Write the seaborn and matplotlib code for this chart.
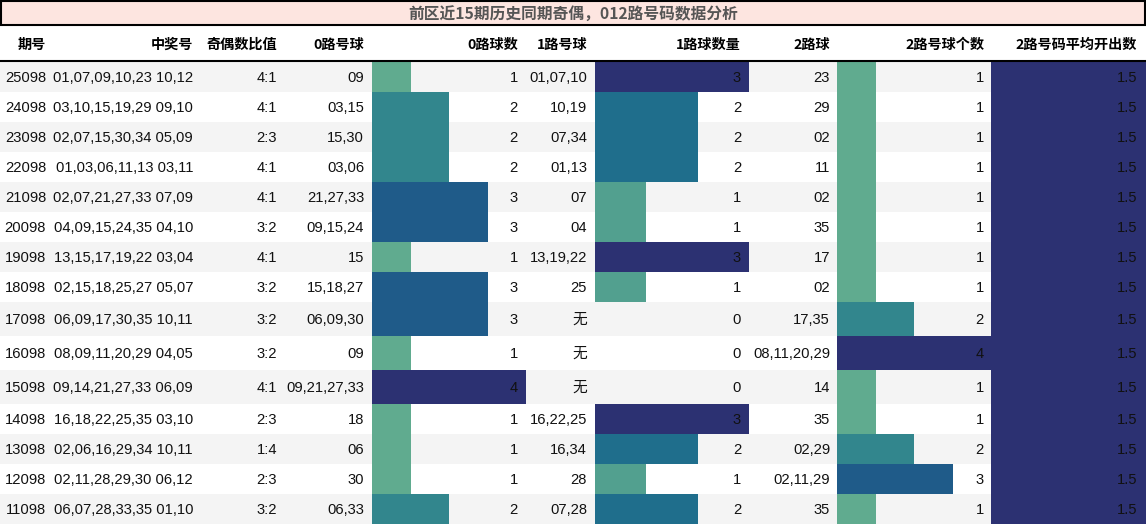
import numpy as np
import pandas as pd
import matplotlib
matplotlib.use('Agg')
import matplotlib.pyplot as plt
from matplotlib.colors import LinearSegmentedColormap
from matplotlib.patches import Rectangle
import seaborn as sns

# 前区近15期历史同期数据
periods = ['25098', '24098', '23098', '22098', '21098', '20098', '19098', '18098',
           '17098', '16098', '15098', '14098', '13098', '12098', '11098']
draws = ['01,07,09,10,23 10,12', '03,10,15,19,29 09,10', '02,07,15,30,34 05,09',
         '01,03,06,11,13 03,11', '02,07,21,27,33 07,09', '04,09,15,24,35 04,10',
         '13,15,17,19,22 03,04', '02,15,18,25,27 05,07', '06,09,17,30,35 10,11',
         '08,09,11,20,29 04,05', '09,14,21,27,33 06,09', '16,18,22,25,35 03,10',
         '02,06,16,29,34 10,11', '02,11,28,29,30 06,12', '06,07,28,33,35 01,10']
odd_even = ['4:1', '4:1', '2:3', '4:1', '4:1', '3:2', '4:1', '3:2', '3:2', '3:2',
            '4:1', '2:3', '1:4', '2:3', '3:2']
road0_balls = ['09', '03,15', '15,30', '03,06', '21,27,33', '09,15,24', '15', '15,18,27',
               '06,09,30', '09', '09,21,27,33', '18', '06', '30', '06,33']
road0_count = [1, 2, 2, 2, 3, 3, 1, 3, 3, 1, 4, 1, 1, 1, 2]
road1_balls = ['01,07,10', '10,19', '07,34', '01,13', '07', '04', '13,19,22', '25',
               '无', '无', '无', '16,22,25', '16,34', '28', '07,28']
road1_count = [3, 2, 2, 2, 1, 1, 3, 1, 0, 0, 0, 3, 2, 1, 2]
road2_balls = ['23', '29', '02', '11', '02', '35', '17', '02', '17,35', '08,11,20,29',
               '14', '35', '02,29', '02,11,29', '35']
road2_count = [1, 1, 1, 1, 1, 1, 1, 1, 2, 4, 1, 1, 2, 3, 1]
road2_avg = [1.5] * 15

headers = ['期号', '中奖号', '奇偶数比值', '0路号球', '0路球数', '1路号球',
           '1路球数量', '2路球', '2路号球个数', '2路号码平均开出数']
title = '前区近15期历史同期奇偶，012路号码数据分析'

df = pd.DataFrame({'期号': periods, '中奖号': draws, '奇偶数比值': odd_even,
                   '0路号球': road0_balls, '0路球数': road0_count,
                   '1路号球': road1_balls, '1路球数量': road1_count,
                   '2路球': road2_balls, '2路号球个数': road2_count,
                   '2路号码平均开出数': road2_avg})

sns.set_theme(style='white')
num_font = ['Liberation Sans', 'Noto Sans CJK SC', 'DejaVu Sans']
cjk_font = ['Noto Sans CJK SC', 'DejaVu Sans']
plt.rcParams['font.family'] = num_font

W, H = 1146, 525
# text right edges and bar columns (left, width) in pixels
text_right = [46, 193, 277, 364, 518, 587, 741, 830, 984, 1137]
bar_cols = {'0路球数': (372, 154), '1路球数量': (595, 154),
            '2路号球个数': (837, 154), '2路号码平均开出数': (991, 155)}

bar_cmap = LinearSegmentedColormap.from_list('bars', [
    (0.0, '#8cc491'), (0.25, '#60ab8f'), (1 / 3, '#52a08f'), (0.5, '#32868d'),
    (2 / 3, '#1f6e8c'), (0.75, '#1f5c89'), (1.0, '#2c3172')])

fig = plt.figure(figsize=(W / 100, H / 100), dpi=100)
ax = fig.add_axes([0, 0, 1, 1])
ax.set_xlim(0, W)
ax.set_ylim(H, 0)
ax.axis('off')

# row geometry: rows containing 无 render a little taller
row_h = np.array([34 if '无' in b else 30 for b in df['1路号球']])
row_top = 62 + np.concatenate([[0], np.cumsum(row_h)[:-1]])
row_mid = row_top + row_h / 2

# zebra background
bg = ['#f4f4f4' if i % 2 == 0 else 'white' for i in range(len(df))]
ax.barh(row_mid, W, height=row_h, left=0, color=bg, linewidth=0)

# data bars
for col, (left, width) in bar_cols.items():
    vals = df[col].to_numpy(dtype=float)
    frac = vals / vals.max()
    ax.barh(row_mid, frac * width, height=row_h, left=left,
            color=bar_cmap(frac), linewidth=0)

# title bar
ax.add_patch(Rectangle((1, 1), W - 2, 24, facecolor='#fde5e0', edgecolor='black', lw=1.5))
ax.text(W / 2, 13.5, title, ha='center', va='center', fontsize=11.3,
        fontweight='bold', color='#555555', family=cjk_font)

# header
for h, xr in zip(headers, text_right):
    ax.text(xr, 45, h, ha='right', va='center', fontsize=10.2,
            fontweight='bold', color='black', family=cjk_font)
ax.plot([0, W], [61, 61], color='black', lw=1.5)

# cells
for i, row in df.iterrows():
    for col, xr in zip(headers, text_right):
        v = row[col]
        s = f'{v:.1f}' if isinstance(v, float) else str(v)
        ax.text(xr, row_mid[i] + 0.5, s, ha='right', va='center', fontsize=10.6,
                color='#111111', family=num_font)

fig.savefig('out.png', dpi=100, facecolor='white')
